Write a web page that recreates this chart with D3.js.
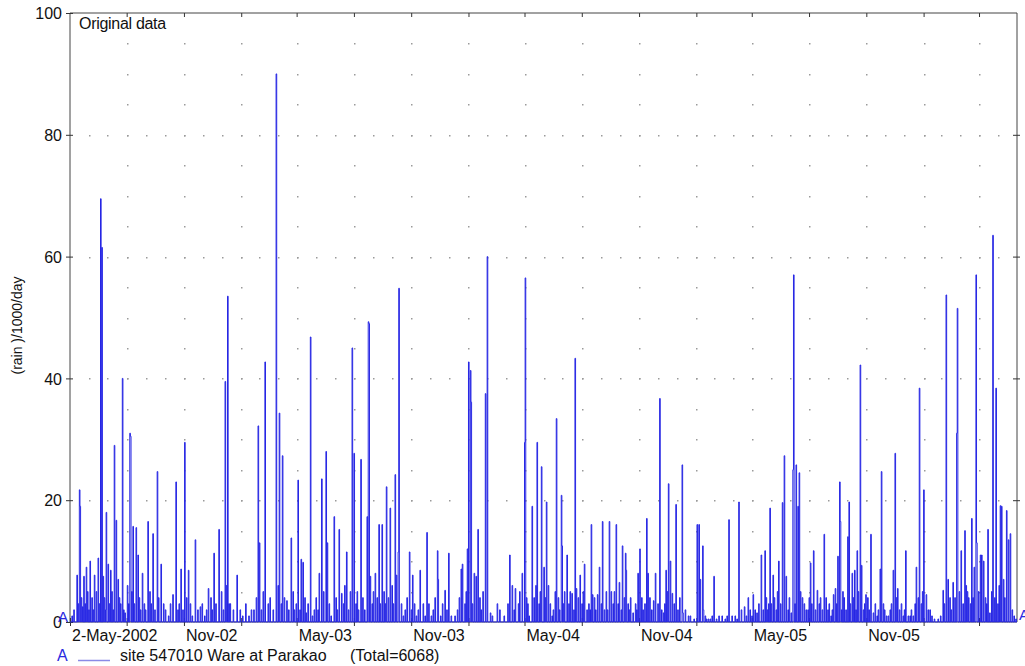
<!DOCTYPE html>
<html>
<head>
<meta charset="utf-8">
<script src="https://cdn.jsdelivr.net/npm/d3@7"></script>
<style>
  body { margin: 0; background: #fff; }
  svg { font-family: "Liberation Sans", Arial, sans-serif; }
</style>
</head>
<body>
<svg id="chart" width="1025" height="666"></svg>
<script>
// daily rain, site 547010 Ware at Parakao, day 0 = 2-May-2002
// only the days with rain are listed, every other day is zero
let startDate = new Date(2002, 4, 2), endDate = new Date(2006, 6, 1);

// the visible storms
let rainDay = [11,15,16,22,26,32,39,45,49,51,53,58,61,65,71,74,77,84,88,96,97,101,106,109,116,125,133,140,146,165,170,178,184,190,201,209,222,231,239,249,253,257,268,273,291,302,304,313,318,331,336,341,348,355,360,366,371,374,379,386,389,400,404,411,413,419,424,432,436,444,453,456,463,467,477,479,480,482,490,496,501,508,514,522,524,527,528,535,545,550,562,573,580,586,590,591,602,608,618,628,630,638,640,643,644,649,652,655,660,667,670,675,686,697,706,710,715,726,730,731,737,742,750,757,761,765,768,774,779,781,786,789,790,794,798,806,811,813,819,826,830,837,839,847,850,855,858,866,869,877,882,887,892,893,900,904,912,915,926,928,937,940,947,953,957,961,964,967,973,983,984,1002,1007,1010,1012,1016,1017,1022,1028,1034,1042,1047,1058,1063,1068,1074,1078,1083,1089,1092,1097,1100,1110,1113,1116,1122,1124,1129,1131,1138,1144,1147,1150,1158,1161,1162,1166,1169,1171,1176,1182,1189,1194,1200,1205,1211,1222,1226,1229,1233,1236,1237,1241,1249,1251,1256,1260,1264,1269,1271,1278,1286,1290,1301,1303,1311,1322,1325,1329,1338,1342,1346,1354,1359,1364,1371,1375,1381,1394,1402,1407,1410,1418,1424,1425,1431,1437,1441,1443,1448,1452,1455,1456,1462,1464,1467,1474,1477,1482,1487,1494,1496,1499,1504,1507,1510,1513];

let rainValue = [7.7,21.7,19,7.5,9,10,7.7,10.5,69.5,61.5,7.5,18,9.5,8.5,29,16.7,7,40,1.5,31,30.5,15.7,15.5,11,8,16.5,14.5,24.7,9.5,4.5,23,8.7,29.5,8.5,13.5,2.5,5.5,11.3,15.2,39.5,53.5,3,7.7,2,2,32.2,13,42.7,3,90,34.3,27.3,3.5,13.8,2,23.3,10.3,9.8,1.5,46.8,1,8,23.5,28,13,1,17.3,15.2,4.7,11.5,45,27.7,2,26.7,17.3,49.3,49,7.5,8,16,16,22.2,18.7,24.2,7.7,11.5,54.8,1,11.5,7.7,8.5,14.7,1,4,11.7,7,5.2,11.3,1,8.7,9.5,12,42.7,41.3,36.1,8,7.5,15.2,2,37.5,60,1.5,3,1,11,6,5.5,8,29.5,56.5,1,19,29.5,25.5,9,19.7,6,1,5,33.4,2,20.8,12.5,5,11,4.7,43.3,5.5,7.7,9.5,2,16,4.5,4.5,9,16.5,2,16.5,5,16,6.5,12.5,11.3,8.5,4,1.5,8,12,17,8,3.5,8,36.7,1.5,8.5,22.7,10,4.7,19.3,25.8,1.5,0.5,16,16,7,12.5,2,0.5,0.5,7.5,1,1,16.8,1,1,19.7,2,2.5,4,2,4.5,2,11,2,11.7,3,18.7,7.7,4,10,19.6,27.3,7.5,1.5,25,57,25.8,19,24.5,4,2,9.7,11.7,5.2,4,14.4,1,4.5,5.5,10.8,23,16.5,5,14,19.7,8,8.5,11.7,42.2,9.3,4.5,14.4,1.5,8.7,24.7,1,8.5,27.7,5.5,1,11.7,1,1,9,38.4,21.7,4.5,2,0.5,5.2,53.7,7,6.5,31,51.5,11.7,15,5,4,17,9,57,13,11,11,10,15.2,1.5,63.5,38.4,19.1,19,7,18.3,13.5,14.5,2];

// the low clutter between storms
let drizzleDay = [3,6,13,18,20,24,28,30,35,37,42,47,55,57,63,67,69,79,81,86,92,94,99,103,111,113,119,121,128,130,136,142,150,153,158,161,173,175,181,187,193,196,205,212,216,219,226,228,234,243,246,251,255,262,277,282,287,295,299,307,310,321,326,334,339,344,351,358,363,369,377,382,392,395,398,407,416,427,429,439,441,447,450,459,461,470,473,485,487,493,498,504,506,511,517,519,532,538,541,548,553,556,559,567,570,576,583,595,598,605,612,622,625,634,636,646,658,663,678,690,703,713,720,722,733,735,745,748,753,755,763,771,776,784,792,801,803,809,816,822,824,833,835,842,844,853,861,863,872,874,880,885,890,896,898,908,910,918,920,923,931,934,944,950,955,959,970,976,979,988,993,996,1020,1025,1031,1038,1052,1055,1071,1086,1095,1103,1106,1118,1120,1126,1134,1136,1141,1153,1155,1164,1173,1179,1185,1187,1191,1197,1203,1208,1214,1217,1219,1224,1231,1239,1243,1246,1253,1258,1262,1266,1274,1276,1281,1283,1293,1296,1298,1306,1308,1314,1317,1319,1327,1332,1335,1340,1349,1351,1357,1362,1367,1369,1378,1384,1388,1398,1404,1413,1415,1421,1428,1434,1439,1446,1450,1459,1470,1472,1480,1485,1490,1492,1501,1516,1519];

let drizzleValue = [1,2,3,4,2.5,3,5,2,4,2,5,3,4,2,3,5,2,4,3,2,6,3,5,3,4,2,3,2,5,3,2,4,3,2,1,3,2,3,2,4,3,1,2,3,1,2,4,2,3,5,2,6,3,2,1,3,1,2,4,2,5,4,2,6,3,4,2,5,3,2,4,3,2,4,2,5,3,4,2,3,6,2,5,3,5,4,2,3,5,4,3,5,3,4,6,3,3,2,4,2,3,1,2,3,1,3,2,1,3,2,1,2,4,3,5,3,4,5,1,2,3,2,3,5,4,3,4,6,3,5,4,3,2,4,3,3,5,2,4,3,5,3,2,4,2,3,5,2,3,5,3,2,4,3,2,3,2,4,2,3,4,2,3,2,3,5,3,2,4,2,1,1,1,0.5,1,0.5,0.5,1,0.5,1,1,1.5,3,4,2,3,2,5,3,2,4,3,5,3,2,4,3,2,3,2,4,2,3,2,3,2,4,2,3,4,2,5,2,3,4,2,3,1,2,3,2,1,2,3,4,2,3,2,1,2,3,4,3,5,2,1,0.5,1,3,4,2,4,5,3,6,3,4,5,4,3,5,4,3,6,4,1,0.5];

let yTicks = [0, 20, 40, 60, 80, 100];
let xTickLabels = ["2-May-2002", "Nov-02", "May-03", "Nov-03", "May-04", "Nov-04", "May-05", "Nov-05"];

let svg = d3.select("#chart");
let plotLeft = 70, plotRight = 1017, plotTop = 13, plotBottom = 622;

let x = d3.scaleTime().domain([startDate, endDate]).range([plotLeft, plotRight]);
let y = d3.scaleLinear().domain([0, 100]).range([plotBottom, plotTop]);

// full daily series
let nDays = d3.timeDay.count(startDate, endDate);
let daily = d3.range(nDays + 1).map(i => ({date: d3.timeDay.offset(startDate, i), v: 0}));
drizzleDay.forEach((d, i) => { daily[d].v = drizzleValue[i]; });
rainDay.forEach((d, i) => { daily[d].v = rainValue[i]; });

// dotted grid
let quarters = d3.timeMonths(new Date(2002, 7, 1), endDate, 3);
let months = d3.timeMonths(new Date(2002, 5, 1), endDate, 1);
let grid = svg.append("g").attr("fill", "#9a9a9a");
quarters.forEach(q => {
  d3.range(5, 100, 5).forEach(v => {
    grid.append("rect").attr("x", Math.round(x(q))).attr("y", Math.round(y(v))).attr("width", 1.5).attr("height", 1.5);
  });
});
[20, 40, 60, 80].forEach(v => {
  months.forEach(m => {
    grid.append("rect").attr("x", Math.round(x(m))).attr("y", Math.round(y(v))).attr("width", 1.5).attr("height", 1.5);
  });
});

// frame
let frame = svg.append("g").attr("stroke", "#444").attr("fill", "none");
frame.append("path").attr("d", `M${plotLeft},${plotBottom}V${plotTop}H${plotRight}V${plotBottom}`);
frame.append("line").attr("x1", plotLeft).attr("x2", plotRight).attr("y1", plotBottom).attr("y2", plotBottom);

// left axis
let yAxis = svg.append("g").attr("transform", `translate(${plotLeft},0)`)
  .call(d3.axisLeft(y).tickValues(yTicks).tickSize(4).tickPadding(5));
yAxis.select(".domain").remove();
yAxis.selectAll(".tick line").attr("x2", 3).attr("x1", -4).attr("stroke", "#333");
yAxis.selectAll("text").attr("font-size", 16).attr("fill", "#111").attr("dy", "0.36em").attr("x", -8);

// right axis ticks
svg.append("g").attr("transform", `translate(${plotRight},0)`)
  .call(d3.axisRight(y).tickValues(yTicks.slice(1, 5)).tickSize(3).tickFormat(""))
  .call(g => g.select(".domain").remove())
  .call(g => g.selectAll(".tick line").attr("x1", -4).attr("stroke", "#333"));

// top axis ticks
svg.append("g").attr("transform", `translate(0,${plotTop})`)
  .call(d3.axisTop(x).tickValues(quarters).tickSize(4).tickFormat(""))
  .call(g => g.select(".domain").remove())
  .call(g => g.selectAll(".tick line").attr("y2", 4).attr("stroke", "#333"));

// bottom axis
let labelDates = [startDate].concat(quarters.filter(q => q.getMonth() === 10 || q.getMonth() === 4));
let xAxis = svg.append("g").attr("transform", `translate(0,${plotBottom})`)
  .call(d3.axisBottom(x).tickValues([startDate].concat(quarters)).tickSize(4).tickFormat(""));
xAxis.select(".domain").remove();
xAxis.selectAll(".tick line").attr("y1", -4).attr("stroke", "#333");
svg.append("g").selectAll("text").data(labelDates).enter().append("text")
  .attr("x", d => x(d) + 2).attr("y", plotBottom + 19)
  .attr("font-size", 16).attr("fill", "#111")
  .text((d, i) => xTickLabels[i]);

// rain line
let line = d3.line().x(d => x(d.date)).y(d => y(d.v)).curve(d3.curveStepAfter);
svg.append("path").datum(daily)
  .attr("d", line).attr("fill", "none")
  .attr("stroke", "#2626e4").attr("stroke-width", 1);

// series markers
svg.append("text").attr("x", 58).attr("y", plotBottom).attr("font-size", 15).attr("fill", "#2a2ae0").text("A");
svg.append("text").attr("x", 1019).attr("y", plotBottom - 2).attr("font-size", 15).attr("fill", "#2a2ae0").text("A");

// titles
svg.append("text").attr("x", 79).attr("y", 29).attr("font-size", 16).attr("fill", "#111")
  .attr("letter-spacing", -0.3).text("Original data");
svg.append("text").attr("transform", `translate(22,${(plotTop + plotBottom) / 2 + 8}) rotate(-90)`)
  .attr("text-anchor", "middle").attr("font-size", 14).attr("fill", "#111").text("(rain )/1000/day");

// legend
let legend = svg.append("g").attr("transform", "translate(57,661)");
legend.append("text").attr("x", 0).attr("y", 0).attr("font-size", 16).attr("fill", "#2a2ae0").text("A");
legend.append("line").attr("x1", 21).attr("x2", 53).attr("y1", -0.5).attr("y2", -0.5).attr("stroke", "#8a8ae6").attr("stroke-width", 1.5);
legend.append("text").attr("x", 63).attr("y", 0).attr("font-size", 16).attr("fill", "#111").text("site 547010 Ware at Parakao");
legend.append("text").attr("x", 293).attr("y", 0).attr("font-size", 16).attr("fill", "#111").text("(Total=6068)");
</script>
</body>
</html>
